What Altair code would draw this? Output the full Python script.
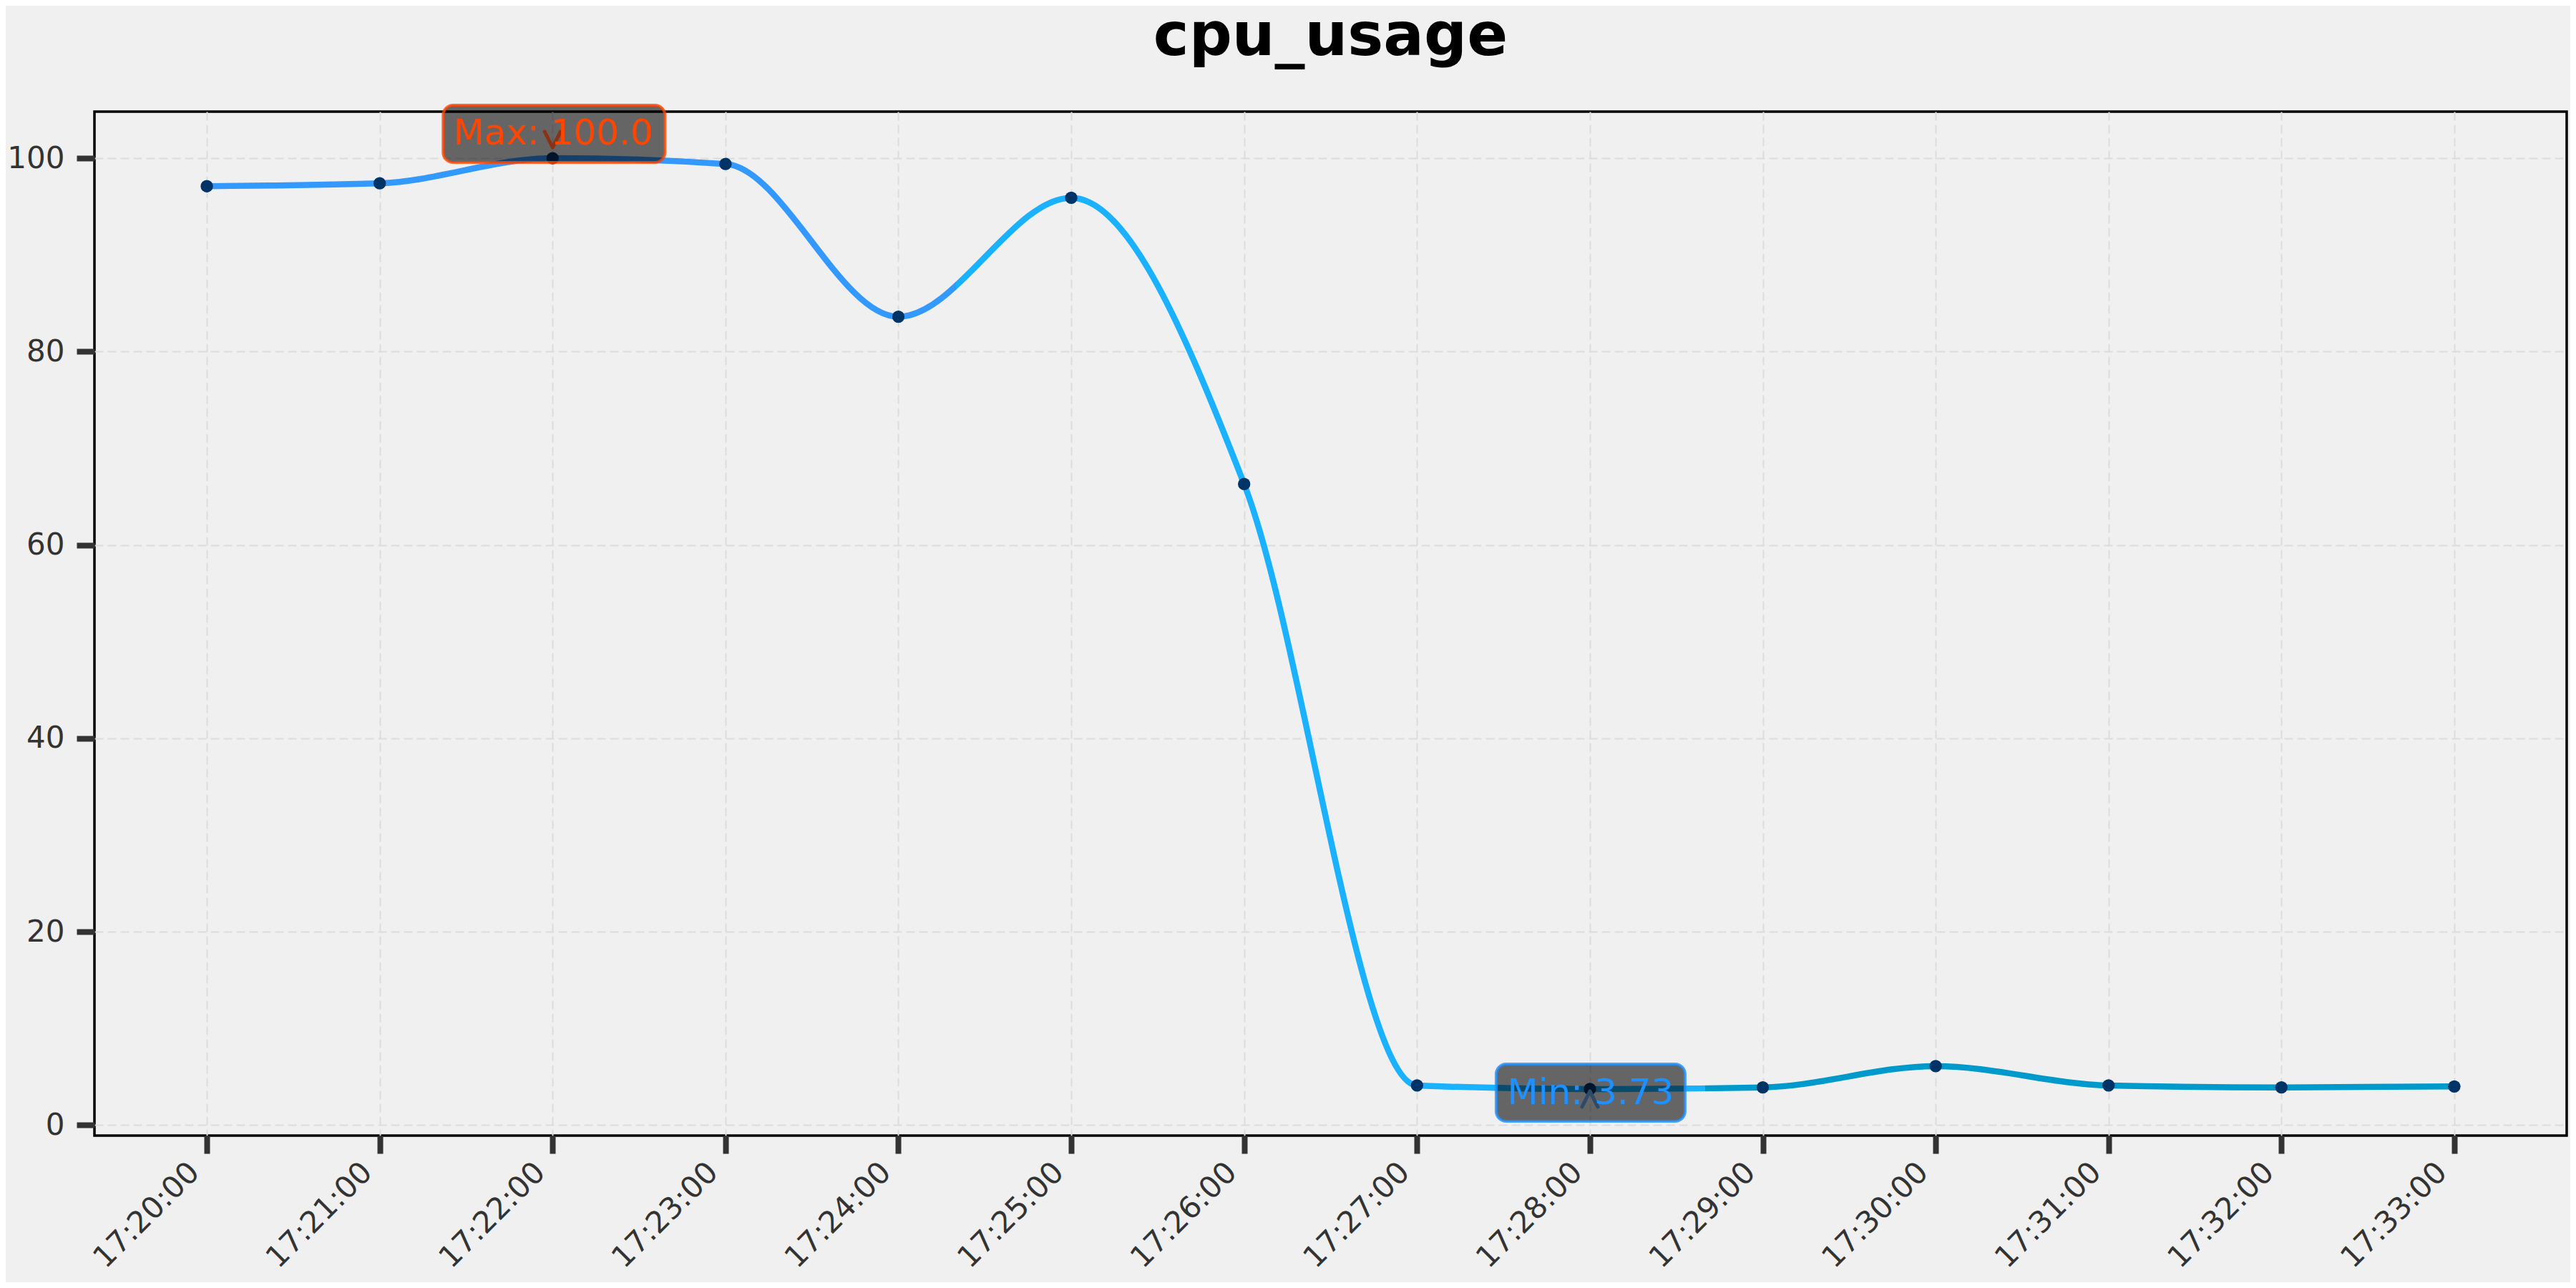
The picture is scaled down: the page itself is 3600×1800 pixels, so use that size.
import altair as alt
import pandas as pd

# ---- data ----
times = ["17:20:00", "17:21:00", "17:22:00", "17:23:00", "17:24:00", "17:25:00", "17:26:00",
         "17:27:00", "17:28:00", "17:29:00", "17:30:00", "17:31:00", "17:32:00", "17:33:00"]
cpu = [97.1, 97.4, 100.0, 99.4, 83.6, 95.9, 66.3, 4.1, 3.73, 3.9, 6.1, 4.1, 3.9, 4.0]
y_ticks = [0, 20, 40, 60, 80, 100]
segment_colors = ["#3399ff", "#1ab1ff", "#0099cc"]
chart_title = "cpu_usage"
day = "2024-01-01"

FONT = "DejaVu Sans"
BG = "#f0f0f0"

df = pd.DataFrame({"t": [f"{day}T{t}" for t in times], "v": cpu})


def to_dt(ts):
    return alt.DateTime(year=ts.year, month=ts.month, date=ts.day, hours=ts.hour,
                        minutes=ts.minute, seconds=ts.second,
                        milliseconds=int(ts.microsecond / 1000))


stamps = [pd.Timestamp(f"{day} {t}") for t in times]
span = stamps[-1] - stamps[0]
x_domain = [to_dt(stamps[0] - span * 0.05), to_dt(stamps[-1] + span * 0.05)]
x_values = [to_dt(s) for s in stamps]

vmin, vmax = min(cpu), max(cpu)
rng = vmax - vmin
y_domain = [vmin - 0.05 * rng, vmax + 0.05 * rng]

imax = cpu.index(vmax)
imin = cpu.index(vmin)
df_max = pd.DataFrame({"t": [df.t[imax]], "v": [vmax], "label": [f"Max: {vmax:.1f}"]})
df_min = pd.DataFrame({"t": [df.t[imin]], "v": [vmin], "label": [f"Min: {vmin:.2f}"]})

x_enc = alt.X("t:T", scale=alt.Scale(domain=x_domain),
              axis=alt.Axis(values=x_values, format="%H:%M:%S", labelAngle=315,
                            labelAlign="right", labelBaseline="top", labelPadding=5,
                            labelOffset=-32, labelLimit=0, title=None))
y_enc = alt.Y("v:Q", scale=alt.Scale(domain=y_domain, nice=False, zero=False),
              axis=alt.Axis(values=y_ticks, labelPadding=17, title=None))

base = alt.Chart(df).encode(x=x_enc, y=y_enc)

third = 1.0 / 3.0
grad = alt.Gradient(
    gradient="linear",
    stops=[
        alt.GradientStop(offset=0, color=segment_colors[0]),
        alt.GradientStop(offset=third, color=segment_colors[0]),
        alt.GradientStop(offset=third, color=segment_colors[1]),
        alt.GradientStop(offset=2 * third, color=segment_colors[1]),
        alt.GradientStop(offset=2 * third, color=segment_colors[2]),
        alt.GradientStop(offset=1, color=segment_colors[2]),
    ],
    x1=0, x2=1, y1=0, y2=0,
)

line = base.mark_line(interpolate="monotone", strokeWidth=8.5, stroke=grad, strokeCap="round")
points = base.mark_circle(size=300, color="#003366", opacity=1)


def annotation(d, color, arrow_color, arrow_shape, arrow_off, box, text_dy):
    b = alt.Chart(d).encode(x="t:T", y="v:Q")
    rect = alt.Chart(d).mark_rect(
        xOffset=box[0], x2Offset=box[1], yOffset=box[2], y2Offset=box[3],
        cornerRadius=14, fill="black", fillOpacity=0.58,
        stroke=color, strokeOpacity=0.8, strokeWidth=4,
    ).encode(x="t:T", x2=alt.X2("t:T"), y="v:Q", y2=alt.Y2("v:Q"))
    arrow = b.mark_point(shape=arrow_shape, filled=False, size=1936, strokeWidth=5,
                         color=arrow_color, opacity=1, yOffset=arrow_off,
                         strokeCap="round", strokeJoin="round")
    text = b.mark_text(font=FONT, fontSize=50, color=color, align="center",
                       baseline="alphabetic", dy=text_dy, dx=1).encode(text="label:N")
    return [rect, arrow, text]


ann_max = annotation(df_max, "#ff4500", "#8c3214", "M -0.5 -1 L 0 0 L 0.5 -1",
                     -15, (-153, 157, -74, 6), -19)
ann_min = annotation(df_min, "#1e90ff", "#2d4b69", "M -0.5 1 L 0 0 L 0.5 1",
                     3, (-131, 133, -35, 45), 21)

chart = alt.layer(line, points, *ann_max, *ann_min).properties(
    width=3455, height=1431,
    padding={"left": 124, "top": 148, "right": 5, "bottom": 205},
    autosize=alt.AutoSizeParams(type="none"),
    background=BG,
    title=alt.TitleParams(text=chart_title, font=FONT, fontSize=84, fontWeight="bold",
                          color="black", anchor="middle", frame="group",
                          baseline="alphabetic", offset=-16),
).configure_view(
    stroke="black", strokeWidth=3.5, fill=BG
).configure_axis(
    labelFont=FONT, labelFontSize=42, labelColor="#333333",
    tickColor="#333333", tickWidth=8, tickSize=25,
    domain=False, grid=True, gridColor="#dcdcdc", gridDash=[12, 6], gridWidth=2,
)

chart.save("out.html", embed_options={"renderer": "svg", "actions": False})
